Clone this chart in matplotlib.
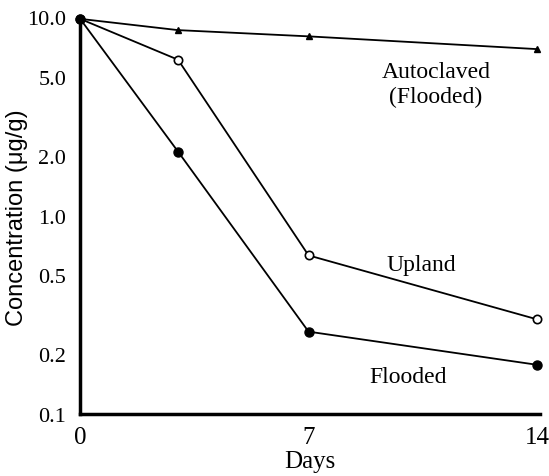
import matplotlib.pyplot as plt
import numpy as np

days = [0, 3, 7, 14]
autoclaved = [9.8, 8.6, 8.0, 6.9]
upland = [9.8, 6.1, 0.63, 0.30]
flooded = [9.8, 2.1, 0.26, 0.177]

yticks = [0.1, 0.2, 0.5, 1.0, 2.0, 5.0, 10.0]
ytick_labels = ['0.1', '0.2', '0.5', '1.0', '2.0', '5.0', '10.0']
xticks = [0, 7, 14]

plt.rcParams['font.family'] = ['Liberation Serif', 'DejaVu Serif']

fig = plt.figure(figsize=(5.49, 4.77), dpi=100)
ax = fig.add_axes([0.146, 0.13, 0.838, 0.832])

ax.plot(days, autoclaved, 'k-', lw=1.3, marker='^', ms=5, clip_on=False)
ax.plot(days, upland, 'k-', lw=1.3, marker='o', ms=6, mfc='white', mew=1.2, clip_on=False)
ax.plot(days, flooded, 'k-', lw=1.3, marker='o', ms=6.5, clip_on=False)

ax.set_yscale('log')
ax.set_ylim(0.1, 10.0)
ax.set_xlim(0, 14.1)
ax.set_yticks(yticks)
ax.set_yticklabels(ytick_labels, fontsize=16)
ax.minorticks_off()
ax.set_xticks(xticks)
ax.set_xticklabels([str(t) for t in xticks], fontsize=18)
ax.tick_params(axis='y', length=0, pad=10)
ax.tick_params(axis='x', length=0, pad=9)

for s in ['top', 'right']:
    ax.spines[s].set_visible(False)
ax.spines['left'].set_linewidth(2.5)
ax.spines['bottom'].set_linewidth(2.5)

ax.set_xlabel('Days', fontsize=18, labelpad=1)
ax.set_ylabel('Concentration (μg/g)', fontsize=17, family='Liberation Sans')
ax.yaxis.set_label_coords(-0.114, 0.496)

ax.text(10.9, 5.35, 'Autoclaved', fontsize=17, ha='center', va='center')
ax.text(10.9, 4.0, '(Flooded)', fontsize=17, ha='center', va='center')
ax.text(10.45, 0.57, 'Upland', fontsize=17, ha='center', va='center')
ax.text(10.05, 0.155, 'Flooded', fontsize=17, ha='center', va='center')

fig.savefig('out.png', dpi=100)
